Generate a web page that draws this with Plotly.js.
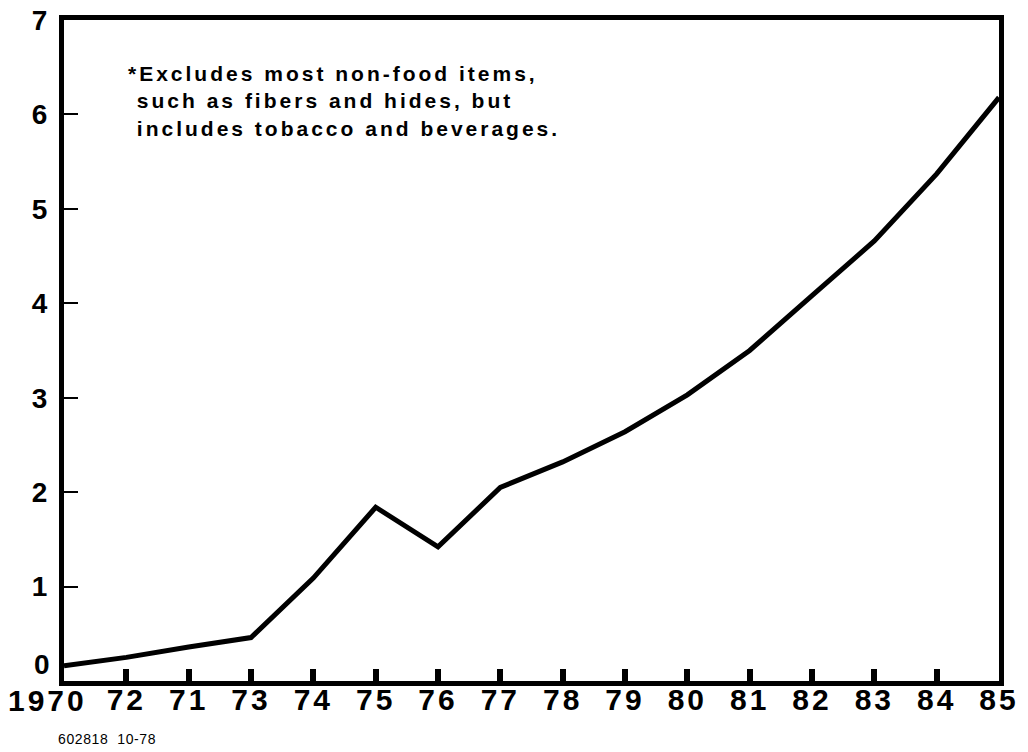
<!DOCTYPE html>
<html>
<head>
<meta charset="utf-8">
<script src="https://cdn.plot.ly/plotly-3.0.1.min.js"></script>
<style>
html,body{margin:0;padding:0;background:#fff;}
#chart{width:1028px;height:752px;}
#chart .xtick text{letter-spacing:3px;}
#chart .annotation.wide text{letter-spacing:3px;}
#chart .annotation.code text{letter-spacing:0.6px;}
</style>
</head>
<body>
<div id="chart"></div>
<script>
// Tick labels as printed on the original chart (including its "72 71" order)
const years = ["1970","72","71","73","74","75","76","77","78","79","80","81","82","83","84","85"];
// Values
const values = [0.16, 0.25, 0.36, 0.46, 1.09, 1.84, 1.42, 2.05, 2.32, 2.64, 3.03, 3.5, 4.08, 4.66, 5.37, 6.18];
const yTicks = [0,1,2,3,4,5,6,7];
const yTickText = ["","1","2","3","4","5","6","7"];
const note = "*Excludes most non-food items,<br> such as fibers and hides, but<br> includes tobacco and beverages.";
const code = "602818  10-78";

const fontFam = "Liberation Sans, Arial, Helvetica, sans-serif";
// first x label is drawn as an annotation (pushed left as in the original)
const xTickText = years.map((y, i) => i === 0 ? "" : y);

const trace = {
  x: years,
  y: values,
  type: "scatter",
  mode: "lines",
  line: {color: "#000", width: 5},
  hoverinfo: "skip"
};

const layout = {
  width: 1028, height: 752,
  margin: {l: 64, r: 29, t: 20, b: 71, pad: 0},
  paper_bgcolor: "#fff", plot_bgcolor: "#fff",
  showlegend: false,
  xaxis: {
    type: "category",
    range: [0, years.length - 1],
    tickvals: years,
    ticktext: xTickText,
    tickangle: 0,
    showgrid: false, zeroline: false,
    showline: true, linecolor: "#000", linewidth: 5, mirror: true,
    ticks: "inside", ticklen: 12, tickwidth: 6, tickcolor: "#000",
    tickfont: {family: fontFam, size: 30, color: "#000", weight: "bold"},
    ticklabelstandoff: -12,
    fixedrange: true
  },
  yaxis: {
    range: [0, 7],
    tickvals: yTicks,
    ticktext: yTickText,
    showgrid: false, zeroline: false,
    showline: true, linecolor: "#000", linewidth: 5, mirror: true,
    ticks: "inside", ticklen: 14, tickwidth: 2, tickcolor: "#000",
    tickfont: {family: fontFam, size: 28, color: "#000", weight: "bold"},
    ticklabelstandoff: 6,
    fixedrange: true
  },
  annotations: [
    {
      // 0: note
      xref: "paper", yref: "paper", x: 0.066, y: 0.940,
      xanchor: "left", yanchor: "top", align: "left",
      text: note, showarrow: false,
      font: {family: fontFam, size: 21, color: "#000", weight: "bold"}
    },
    {
      // 1: first year label (at the left end of the x axis)
      xref: "paper", yref: "paper", x: 0, y: 0, yshift: -1, xshift: -17,
      xanchor: "center", yanchor: "top",
      text: years[0], showarrow: false,
      font: {family: fontFam, size: 30, color: "#000", weight: "bold"}
    },
    {
      // 2: zero label sits slightly above the baseline in the original
      xref: "paper", yref: "y", x: 0, y: 0, yshift: 17, xshift: -12,
      xanchor: "right", yanchor: "middle",
      text: String(yTicks[0]), showarrow: false,
      font: {family: fontFam, size: 28, color: "#000", weight: "bold"}
    },
    {
      // 3: code line
      xref: "paper", yref: "paper", x: -0.009, y: -0.087,
      xanchor: "left", yanchor: "middle", align: "left",
      text: code, showarrow: false,
      font: {family: fontFam, size: 14, color: "#000"}
    }
  ]
};

Plotly.newPlot("chart", [trace], layout, {displayModeBar: false, staticPlot: true}).then(() => {
  const anns = document.querySelectorAll("#chart .annotation");
  if (anns[0]) anns[0].classList.add("wide");
  if (anns[1]) anns[1].classList.add("wide");
  if (anns[3]) anns[3].classList.add("code");
});
</script>
</body>
</html>
